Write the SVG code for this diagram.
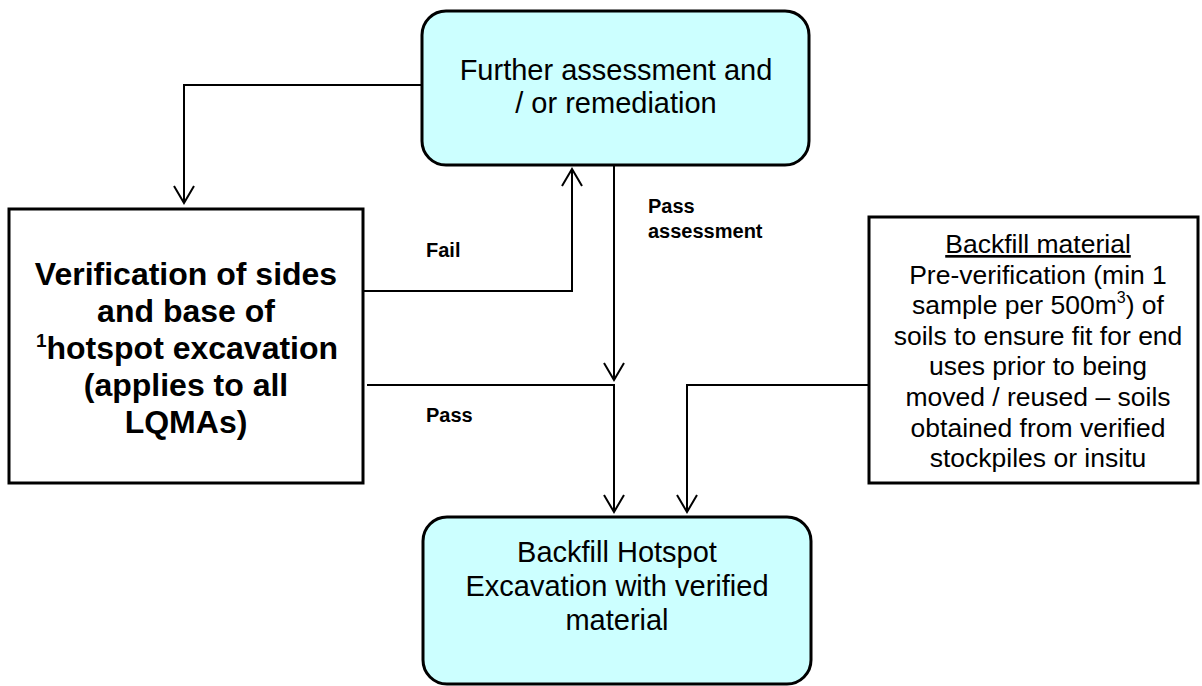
<svg xmlns="http://www.w3.org/2000/svg" width="1202" height="686" viewBox="0 0 1202 686">
  <style>
    .box { fill: #ffffff; stroke: #000000; stroke-width: 3; }
    .round { fill: #ccffff; stroke: #000000; stroke-width: 3; }
    .wire { fill: none; stroke: #000000; stroke-width: 2; }
    .t { font-family: "Liberation Sans", Arial, sans-serif; fill: #000000; text-anchor: middle; }
    .big { font-size: 29px; }
    .bold { font-size: 32px; font-weight: bold; }
    .side { font-size: 26.5px; }
    .lbl { font-family: "Liberation Sans", Arial, sans-serif; font-size: 20px; font-weight: bold; fill: #000000; }
  </style>
  <defs>
    <marker id="open-arrow" markerUnits="userSpaceOnUse" markerWidth="40" markerHeight="40" refX="0" refY="0" orient="auto" viewBox="-20 -20 40 40" overflow="visible">
      <path d="M -17 -10 L 0 0 L -17 10" fill="none" stroke="#000000" stroke-width="2"/>
    </marker>
  </defs>

  <!-- connectors -->
  <g id="connectors">
    <path class="wire" d="M 422 85 H 184 V 203" marker-end="url(#open-arrow)"/>
    <path class="wire" d="M 363 291 H 572 V 169" marker-end="url(#open-arrow)"/>
    <path class="wire" d="M 614 165 V 380" marker-end="url(#open-arrow)"/>
    <path class="wire" d="M 367 385 H 614 V 512" marker-end="url(#open-arrow)"/>
    <path class="wire" d="M 869 385 H 687 V 512" marker-end="url(#open-arrow)"/>
    <text class="lbl" x="426" y="257">Fail</text>
    <text class="lbl" x="648" y="213">Pass</text>
    <text class="lbl" x="648" y="238">assessment</text>
    <text class="lbl" x="426" y="422">Pass</text>
  </g>

  <!-- further assessment -->
  <g id="further-assessment">
    <rect class="round" x="422" y="11" width="387" height="154" rx="24" ry="24"/>
    <text class="t big" x="616" y="80">Further assessment and</text>
    <text class="t big" x="616" y="113">/ or remediation</text>
  </g>

  <!-- verification -->
  <g id="verification">
    <rect class="box" x="9" y="209" width="354" height="274"/>
    <text class="t bold" x="186" y="285">Verification of sides</text>
    <text class="t bold" x="186" y="322">and base of</text>
    <text class="t bold" x="187" y="359"><tspan font-size="19" dy="-12">1</tspan><tspan dy="12">hotspot excavation</tspan></text>
    <text class="t bold" x="186" y="396">(applies to all</text>
    <text class="t bold" x="186" y="433">LQMAs)</text>
  </g>

  <!-- backfill material -->
  <g id="backfill-material">
    <rect class="box" x="869" y="217" width="329" height="266"/>
    <text class="t side" x="1038" y="253" text-decoration="underline">Backfill material</text>
    <text class="t side" x="1038" y="283.6">Pre-verification (min 1</text>
    <text class="t side" x="1038" y="314.2">sample per 500m<tspan font-size="16" dy="-11">3</tspan><tspan dy="11">) of</tspan></text>
    <text class="t side" x="1038" y="344.8">soils to ensure fit for end</text>
    <text class="t side" x="1038" y="375.4">uses prior to being</text>
    <text class="t side" x="1038" y="406">moved / reused – soils</text>
    <text class="t side" x="1038" y="436.6">obtained from verified</text>
    <text class="t side" x="1038" y="467.2">stockpiles or insitu</text>
  </g>

  <!-- backfill hotspot -->
  <g id="backfill-hotspot">
    <rect class="round" x="423" y="517" width="388" height="167" rx="24" ry="24"/>
    <text class="t big" x="617" y="562">Backfill Hotspot</text>
    <text class="t big" x="617" y="596">Excavation with verified</text>
    <text class="t big" x="617" y="630">material</text>
  </g>
</svg>
